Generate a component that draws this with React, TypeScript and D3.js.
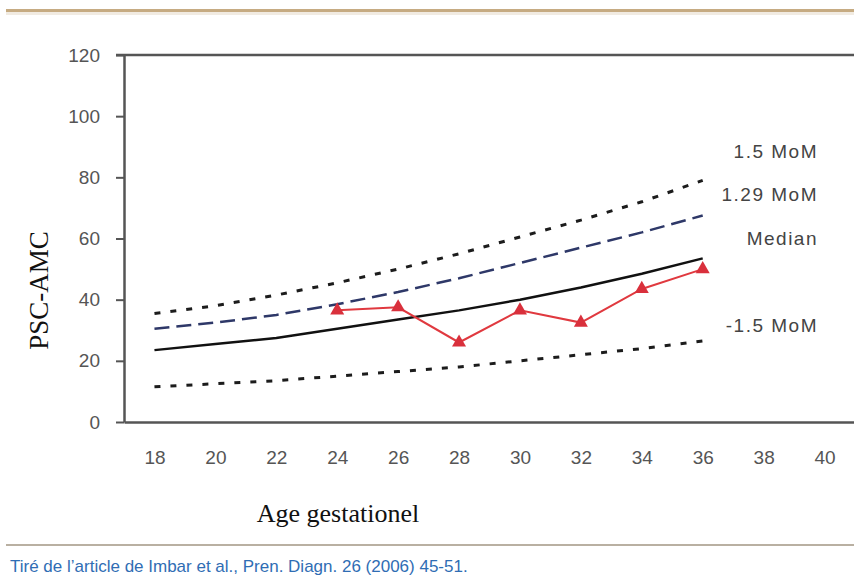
import React, { useEffect, useRef } from 'react';
import * as d3 from 'd3';

// weeks of gestation (category axis 18..40)
const weekTicks = [18, 20, 22, 24, 26, 28, 30, 32, 34, 36, 38, 40];
const yTicks = [0, 20, 40, 60, 80, 100, 120];

const curveWeeks = [18, 20, 22, 24, 26, 28, 30, 32, 34, 36];
const mom15 = [35.5, 38, 41.5, 45.5, 50, 55, 60.5, 66, 72, 79];
const mom129 = [30.5, 32.5, 35, 38.5, 42.5, 47, 52, 57, 62, 67.5];
const median = [23.5, 25.5, 27.5, 30.5, 33.5, 36.5, 40, 44, 48.5, 53.5];
const momMinus15 = [11.5, 12.5, 13.5, 15, 16.5, 18, 20, 22, 24, 26.5];

const patientWeeks = [24, 26, 28, 30, 32, 34, 36];
const patient = [36.5, 37.5, 26, 36.5, 32.5, 43.5, 50];

const labels = [
  { text: '1.5 MoM', value: 88 },
  { text: '1.29 MoM', value: 74 },
  { text: 'Median', value: 59.5 },
  { text: '-1.5 MoM', value: 31 },
];

const W = 854;
const H = 588;

export default function App() {
  const ref = useRef<SVGSVGElement>(null);

  useEffect(() => {
    const svg = d3.select(ref.current);
    svg.selectAll('*').remove();

    const x = d3.scaleLinear().domain([17, 41]).range([124, 855]);
    const y = d3.scaleLinear().domain([0, 120]).range([422, 55]);

    // frame lines
    svg.append('rect').attr('x', 6).attr('y', 9).attr('width', W).attr('height', 3).attr('fill', '#c6ab82');
    svg.append('rect').attr('x', 6).attr('y', 12).attr('width', W).attr('height', 3).attr('fill', '#f1ebe2');
    svg.append('rect').attr('x', 6).attr('y', 544).attr('width', W).attr('height', 2).attr('fill', '#b9b0a2');

    // y axis
    const yAxis = svg.append('g')
      .attr('transform', `translate(${x(17)},0)`)
      .call(d3.axisLeft(y).tickValues(yTicks).tickSize(8).tickPadding(16).tickSizeOuter(0));
    yAxis.select('.domain').attr('stroke', '#555').attr('stroke-width', 2.5);
    yAxis.selectAll('line').attr('stroke', '#555').attr('stroke-width', 2);
    yAxis.selectAll('text')
      .attr('font-family', 'Liberation Sans, Arial, sans-serif')
      .attr('font-size', 19)
      .attr('fill', '#555');

    // top border of plot + x axis
    svg.append('line').attr('x1', x(17) - 8).attr('x2', W).attr('y1', y(120)).attr('y2', y(120))
      .attr('stroke', '#555').attr('stroke-width', 2.5);
    const xAxis = svg.append('g')
      .attr('transform', `translate(0,${y(0)})`)
      .call(d3.axisBottom(x).tickValues(weekTicks).tickSize(0).tickPadding(29).tickSizeOuter(0));
    xAxis.select('.domain').attr('stroke', '#555').attr('stroke-width', 2.5);
    xAxis.selectAll('text')
      .attr('font-family', 'Liberation Sans, Arial, sans-serif')
      .attr('font-size', 19)
      .attr('fill', '#555');

    const line = d3.line<number>()
      .x((d, i) => x(curveWeeks[i]))
      .y(d => y(d));

    svg.append('path').attr('d', line(mom15)).attr('fill', 'none')
      .attr('stroke', '#1c1c1c').attr('stroke-width', 3).attr('stroke-dasharray', '6,10');
    svg.append('path').attr('d', line(mom129)).attr('fill', 'none')
      .attr('stroke', '#2e3868').attr('stroke-width', 2.5).attr('stroke-dasharray', '15,7');
    svg.append('path').attr('d', line(momMinus15)).attr('fill', 'none')
      .attr('stroke', '#1c1c1c').attr('stroke-width', 3).attr('stroke-dasharray', '6,10');
    svg.append('path').attr('d', line(median)).attr('fill', 'none')
      .attr('stroke', '#111').attr('stroke-width', 2.5);

    // patient series
    const pline = d3.line<number>()
      .x((d, i) => x(patientWeeks[i]))
      .y(d => y(d));
    svg.append('path').attr('d', pline(patient)).attr('fill', 'none')
      .attr('stroke', '#e0393f').attr('stroke-width', 2);
    const tri = d3.symbol().type(d3.symbolTriangle).size(85);
    svg.selectAll('.tri').data(patient).join('path')
      .attr('class', 'tri')
      .attr('d', tri)
      .attr('transform', (d, i) => `translate(${x(patientWeeks[i])},${y(d)})`)
      .attr('fill', '#d9303c');

    // curve labels
    svg.selectAll('.lbl').data(labels).join('text')
      .attr('class', 'lbl')
      .attr('x', 818)
      .attr('y', d => y(d.value))
      .attr('text-anchor', 'end')
      .attr('dominant-baseline', 'middle')
      .attr('font-family', 'Liberation Sans, Arial, sans-serif')
      .attr('font-size', 19)
      .attr('letter-spacing', 1.5)
      .attr('fill', '#444')
      .text(d => d.text);

    // axis titles
    svg.append('text')
      .attr('transform', `translate(48,${y(43)}) rotate(-90)`)
      .attr('text-anchor', 'middle')
      .attr('font-family', 'Liberation Serif, Times New Roman, serif')
      .attr('font-size', 27)
      .attr('fill', '#111')
      .text('PSC-AMC');
    svg.append('text')
      .attr('x', 338).attr('y', 522)
      .attr('text-anchor', 'middle')
      .attr('font-family', 'Liberation Serif, Times New Roman, serif')
      .attr('font-size', 26)
      .attr('fill', '#111')
      .text('Age gestationel');

    svg.append('text')
      .attr('x', 10).attr('y', 572)
      .attr('font-family', 'Liberation Sans Narrow, Arial Narrow, sans-serif')
      .attr('font-size', 17)
      .attr('fill', '#2f6db4')
      .text('Tiré de l\u2019article de Imbar et al., Pren. Diagn. 26 (2006) 45-51.');
  }, []);

  return (
    <svg ref={ref} width={W} height={H}
      style={{ position: 'absolute', left: 0, top: 0, background: '#fff' }} />
  );
}
